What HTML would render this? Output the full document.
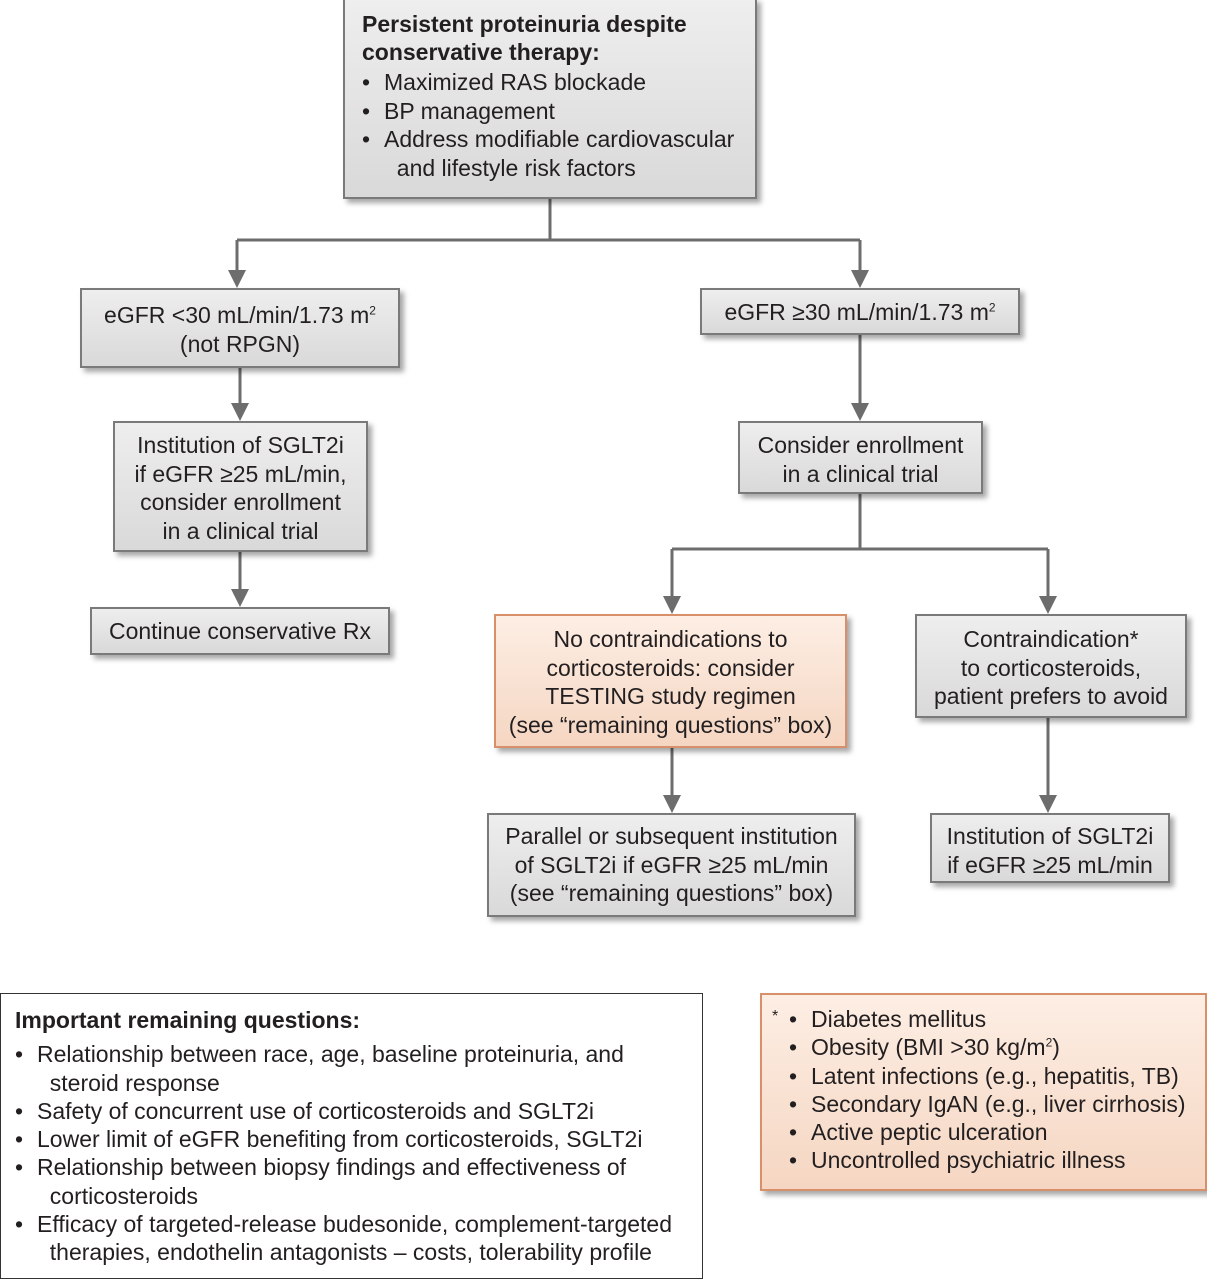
<!DOCTYPE html>
<html><head><meta charset="utf-8"><style>
body{margin:0;width:1207px;height:1280px;background:#fff;position:relative;overflow:hidden;font-family:"Liberation Sans",Arial,sans-serif;color:#231f20}
.b{position:absolute;box-sizing:border-box;border:2px solid #7a7a7a;background:linear-gradient(#eeeeee,#d9d9d9);box-shadow:4px 4px 5px rgba(0,0,0,0.35);text-align:center;font-size:23px;line-height:28.5px;white-space:nowrap}
.o{border-color:#d8906a;background:linear-gradient(#fdeee4,#f5d6c2)}
ul{margin:0;padding:0;list-style:none}
li{position:relative;padding-left:22px}
li:before{content:"•";position:absolute;left:0}
sup{font-size:12px;line-height:0}
</style></head><body>
<svg width="1207" height="1280" style="position:absolute;left:0;top:0">
<g stroke="#6d6d6d" stroke-width="3" fill="none">
<path d="M550 199V240M237 240H860M237 240V275M860 240V275M240 368V408M240 552V595M860 335V408M860 494V549M672 549H1048M672 549V600M1048 549V600M672 748V800M1048 718V800"/>
</g>
<g fill="#6d6d6d">
<path d="M228 270L246 270L237 288Z"/><path d="M851 270L869 270L860 288Z"/>
<path d="M231 403L249 403L240 421Z"/><path d="M231 589L249 589L240 607Z"/>
<path d="M851 403L869 403L860 421Z"/>
<path d="M663 596L681 596L672 614Z"/><path d="M1039 596L1057 596L1048 614Z"/>
<path d="M663 795L681 795L672 813Z"/><path d="M1039 795L1057 795L1048 813Z"/>
</g></svg>

<div class="b" style="left:343px;top:-2px;width:414px;height:201px;text-align:left;padding:10px 0 0 17px">
<div style="font-weight:bold;line-height:28px">Persistent proteinuria despite<br>conservative therapy:</div>
<ul style="margin-top:2px"><li>Maximized RAS blockade</li><li>BP management</li><li>Address modifiable cardiovascular<br>&nbsp;&nbsp;and lifestyle risk factors</li></ul>
</div>

<div class="b" style="left:80px;top:288px;width:320px;height:80px;padding-top:11px">eGFR &lt;30 mL/min/1.73 m<sup>2</sup><br>(not RPGN)</div>
<div class="b" style="left:700px;top:288px;width:320px;height:47px;padding-top:8px">eGFR ≥30 mL/min/1.73 m<sup>2</sup></div>
<div class="b" style="left:113px;top:421px;width:255px;height:131px;padding-top:8px">Institution of SGLT2i<br>if eGFR ≥25 mL/min,<br>consider enrollment<br>in a clinical trial</div>
<div class="b" style="left:90px;top:607px;width:300px;height:48px;padding-top:8px">Continue conservative Rx</div>
<div class="b" style="left:738px;top:421px;width:245px;height:73px;padding-top:8px">Consider enrollment<br>in a clinical trial</div>
<div class="b o" style="left:494px;top:614px;width:353px;height:134px;padding-top:9px">No contraindications to<br>corticosteroids: consider<br>TESTING study regimen<br>(see “remaining questions” box)</div>
<div class="b" style="left:915px;top:614px;width:272px;height:104px;padding-top:9px">Contraindication*<br>to corticosteroids,<br>patient prefers to avoid</div>
<div class="b" style="left:487px;top:813px;width:369px;height:104px;padding-top:7px">Parallel or subsequent institution<br>of SGLT2i if eGFR ≥25 mL/min<br>(see “remaining questions” box)</div>
<div class="b" style="left:930px;top:813px;width:240px;height:70px;padding-top:7px">Institution of SGLT2i<br>if eGFR ≥25 mL/min</div>

<div style="position:absolute;left:0;top:993px;width:703px;height:286px;box-sizing:border-box;border:1.5px solid #333;background:#fff;padding:12px 0 0 14px;font-size:23px;line-height:28.3px;white-space:nowrap">
<div style="font-weight:bold;margin-bottom:6px">Important remaining questions:</div>
<ul><li>Relationship between race, age, baseline proteinuria, and<br>&nbsp;&nbsp;steroid response</li><li>Safety of concurrent use of corticosteroids and SGLT2i</li><li>Lower limit of eGFR benefiting from corticosteroids, SGLT2i</li><li>Relationship between biopsy findings and effectiveness of<br>&nbsp;&nbsp;corticosteroids</li><li>Efficacy of targeted-release budesonide, complement-targeted<br>&nbsp;&nbsp;therapies, endothelin antagonists – costs, tolerability profile</li></ul>
</div>

<div class="b o" style="left:760px;top:993px;width:447px;height:198px;text-align:left;padding:10px 0 0 10px;line-height:28.3px">
<span style="position:absolute;left:10px;top:8px;font-size:16px">*</span>
<ul style="margin-left:17px"><li>Diabetes mellitus</li><li>Obesity (BMI &gt;30 kg/m<sup>2</sup>)</li><li>Latent infections (e.g., hepatitis, TB)</li><li>Secondary IgAN (e.g., liver cirrhosis)</li><li>Active peptic ulceration</li><li>Uncontrolled psychiatric illness</li></ul>
</div>
</body></html>
